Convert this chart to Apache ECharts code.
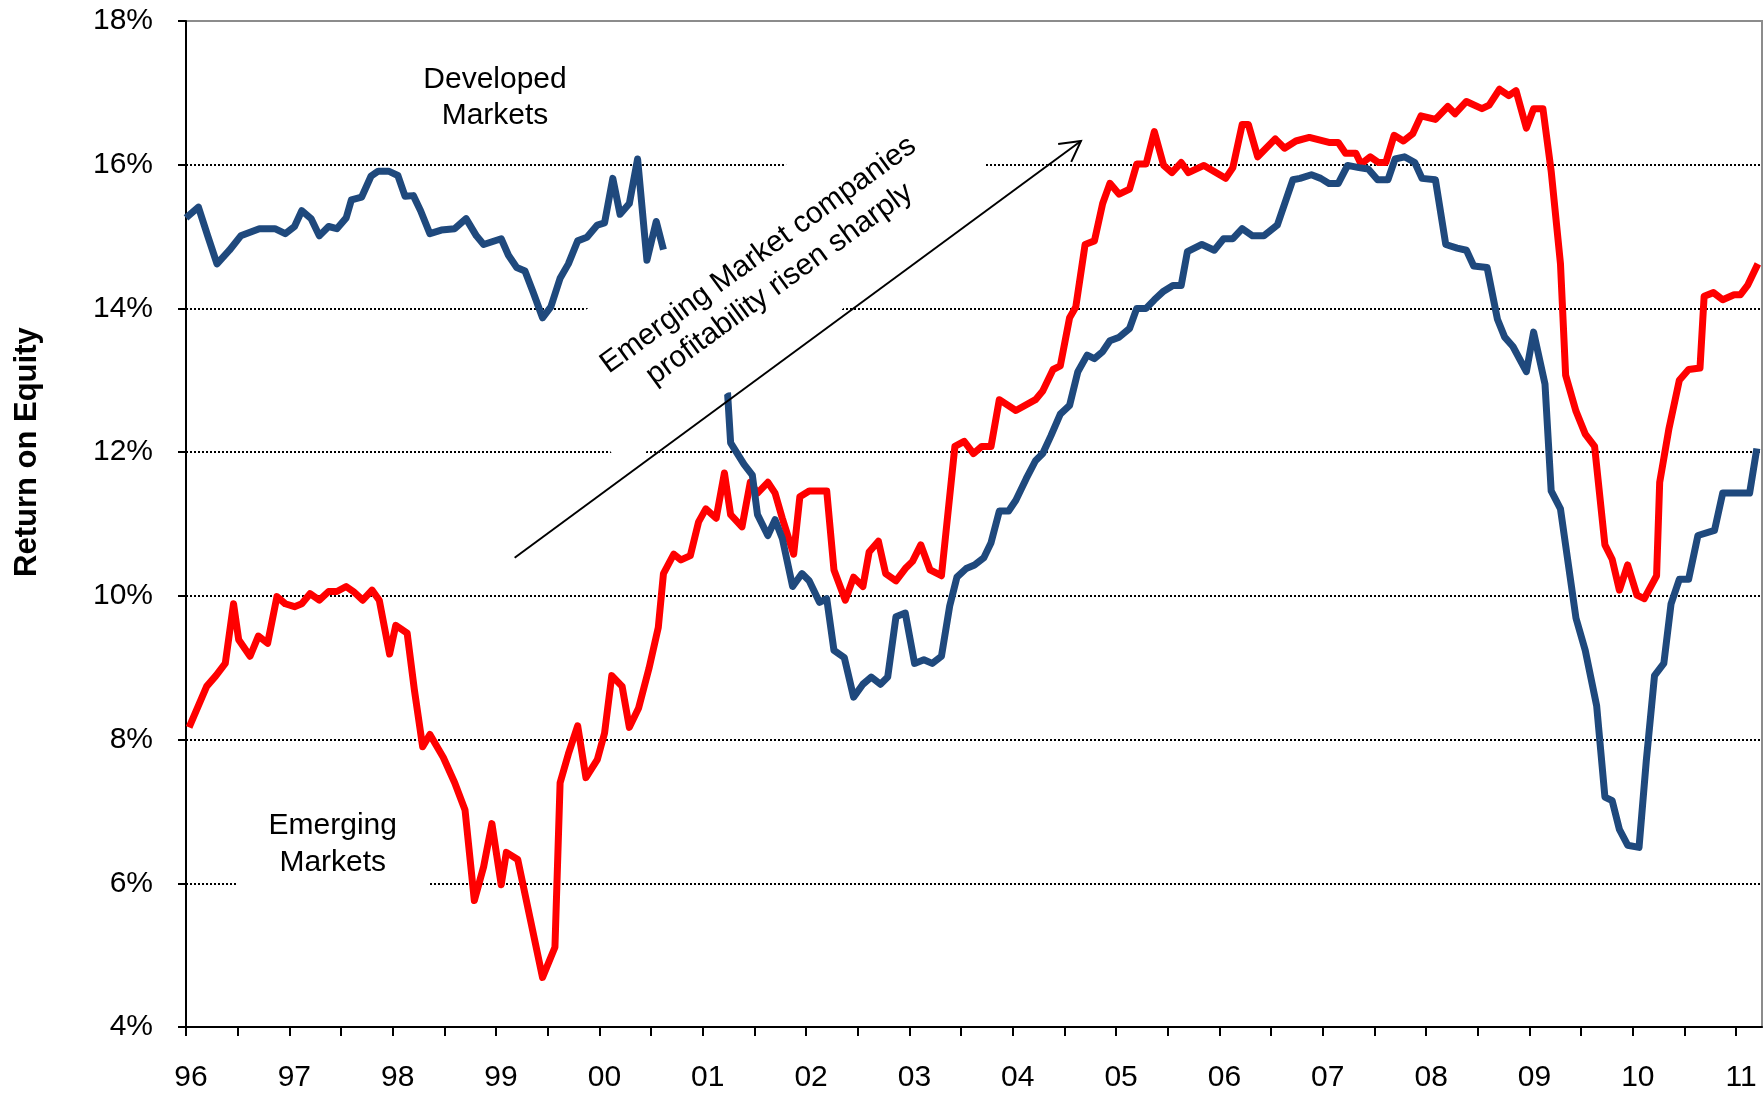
<!DOCTYPE html>
<html>
<head>
<meta charset="utf-8">
<script src="https://cdn.jsdelivr.net/npm/echarts@6/dist/echarts.min.js"></script>
<style>
  html, body { margin: 0; padding: 0; background: #fff; }
  #roe-chart { width: 1764px; height: 1100px; }
</style>
</head>
<body>
<div id="roe-chart"></div>
<script>
  // x axis: years shown, plus the half-year tick marks
  const yearTicks = [1996, 1997, 1998, 1999, 2000, 2001, 2002, 2003, 2004, 2005, 2006, 2007, 2008, 2009, 2010, 2011];
  const halfYearTicks = [1996.5, 1997.5, 1998.5, 1999.5, 2000.5, 2001.5, 2002.5, 2003.5, 2004.5, 2005.5, 2006.5, 2007.5, 2008.5, 2009.5, 2010.5];

  // Developed Markets ROE (%), [year, value]; the line is hidden behind the note box late 2000 - early 2001
  const developedEarly = [
    [1996.00, 15.26], [1996.12, 15.41], [1996.21, 15.01], [1996.30, 14.62], [1996.42, 14.81], [1996.53, 15.01],
    [1996.71, 15.11], [1996.86, 15.11], [1996.96, 15.04], [1997.05, 15.14], [1997.12, 15.36], [1997.21, 15.25],
    [1997.29, 15.01], [1997.38, 15.14], [1997.46, 15.11], [1997.55, 15.26], [1997.60, 15.51], [1997.70, 15.55],
    [1997.79, 15.84], [1997.86, 15.91], [1997.96, 15.91], [1998.05, 15.85], [1998.12, 15.56], [1998.20, 15.57],
    [1998.27, 15.36], [1998.36, 15.04], [1998.47, 15.09], [1998.60, 15.11], [1998.71, 15.25], [1998.81, 15.01],
    [1998.88, 14.89], [1999.05, 14.97], [1999.12, 14.74], [1999.20, 14.57], [1999.28, 14.52], [1999.36, 14.22],
    [1999.45, 13.87], [1999.53, 14.02], [1999.62, 14.42], [1999.70, 14.62], [1999.79, 14.94], [1999.88, 14.99],
    [1999.98, 15.16], [2000.05, 15.19], [2000.13, 15.81], [2000.20, 15.31], [2000.29, 15.46], [2000.37, 16.08],
    [2000.46, 14.67], [2000.55, 15.21], [2000.62, 14.82]
  ];
  const developedLate = [
    [2001.24, 12.83], [2001.27, 12.13], [2001.40, 11.83], [2001.48, 11.68], [2001.53, 11.13], [2001.63, 10.84],
    [2001.70, 11.06], [2001.77, 10.80], [2001.87, 10.13], [2001.96, 10.31], [2002.03, 10.21], [2002.13, 9.91],
    [2002.20, 9.96], [2002.27, 9.24], [2002.37, 9.14], [2002.46, 8.59], [2002.55, 8.77], [2002.63, 8.87],
    [2002.72, 8.77], [2002.79, 8.87], [2002.87, 9.71], [2002.96, 9.76], [2003.05, 9.06], [2003.14, 9.11],
    [2003.22, 9.06], [2003.31, 9.16], [2003.39, 9.86], [2003.46, 10.26], [2003.55, 10.38], [2003.63, 10.43],
    [2003.72, 10.53], [2003.79, 10.74], [2003.87, 11.18], [2003.96, 11.18], [2004.03, 11.33], [2004.13, 11.63],
    [2004.22, 11.88], [2004.29, 11.98], [2004.37, 12.23], [2004.46, 12.53], [2004.55, 12.65], [2004.63, 13.12],
    [2004.72, 13.35], [2004.79, 13.30], [2004.87, 13.40], [2004.94, 13.55], [2005.03, 13.60], [2005.13, 13.72],
    [2005.20, 14.00], [2005.29, 14.00], [2005.37, 14.12], [2005.46, 14.24], [2005.55, 14.32], [2005.63, 14.32],
    [2005.69, 14.79], [2005.83, 14.89], [2005.95, 14.81], [2006.04, 14.97], [2006.13, 14.97], [2006.22, 15.11],
    [2006.32, 15.01], [2006.43, 15.01], [2006.56, 15.16], [2006.71, 15.79], [2006.78, 15.81], [2006.89, 15.86],
    [2006.98, 15.81], [2007.06, 15.74], [2007.15, 15.74], [2007.24, 15.99], [2007.35, 15.96], [2007.44, 15.94],
    [2007.53, 15.79], [2007.63, 15.79], [2007.70, 16.08], [2007.79, 16.11], [2007.89, 16.03], [2007.96, 15.81],
    [2008.09, 15.79], [2008.19, 14.89], [2008.30, 14.84], [2008.39, 14.81], [2008.46, 14.59], [2008.59, 14.57],
    [2008.69, 13.85], [2008.76, 13.60], [2008.84, 13.47], [2008.97, 13.12], [2009.04, 13.67], [2009.15, 12.95],
    [2009.21, 11.46], [2009.30, 11.21], [2009.45, 9.69], [2009.54, 9.24], [2009.65, 8.47], [2009.73, 7.20],
    [2009.80, 7.15], [2009.87, 6.75], [2009.95, 6.53], [2010.06, 6.50], [2010.13, 7.70], [2010.21, 8.89],
    [2010.30, 9.06], [2010.37, 9.89], [2010.45, 10.23], [2010.54, 10.23], [2010.63, 10.84], [2010.79, 10.91],
    [2010.87, 11.43], [2011.13, 11.43], [2011.20, 12.05]
  ];

  // Emerging Markets ROE (%), [year, value]
  const emerging = [
    [1996.03, 8.17], [1996.20, 8.74], [1996.29, 8.89], [1996.38, 9.06], [1996.46, 9.89], [1996.51, 9.39],
    [1996.62, 9.16], [1996.70, 9.44], [1996.79, 9.34], [1996.88, 9.99], [1996.96, 9.89], [1997.05, 9.85],
    [1997.12, 9.89], [1997.20, 10.03], [1997.29, 9.94], [1997.38, 10.06], [1997.46, 10.06], [1997.55, 10.13],
    [1997.62, 10.06], [1997.71, 9.94], [1997.80, 10.08], [1997.87, 9.94], [1997.97, 9.19], [1998.03, 9.59],
    [1998.14, 9.48], [1998.21, 8.69], [1998.29, 7.90], [1998.36, 8.07], [1998.49, 7.75], [1998.60, 7.40],
    [1998.70, 7.02], [1998.79, 5.76], [1998.88, 6.23], [1998.96, 6.83], [1999.05, 5.98], [1999.10, 6.43],
    [1999.21, 6.33], [1999.33, 5.51], [1999.45, 4.69], [1999.57, 5.11], [1999.62, 7.40], [1999.70, 7.80],
    [1999.79, 8.19], [1999.87, 7.47], [1999.98, 7.72], [2000.05, 8.09], [2000.12, 8.89], [2000.22, 8.74],
    [2000.29, 8.17], [2000.38, 8.44], [2000.48, 8.99], [2000.57, 9.56], [2000.62, 10.31], [2000.72, 10.58],
    [2000.79, 10.50], [2000.88, 10.56], [2000.96, 11.03], [2001.03, 11.21], [2001.13, 11.08], [2001.21, 11.71],
    [2001.27, 11.13], [2001.38, 10.96], [2001.46, 11.58], [2001.53, 11.43], [2001.63, 11.58], [2001.70, 11.43],
    [2001.77, 11.08], [2001.88, 10.58], [2001.94, 11.38], [2002.03, 11.46], [2002.20, 11.46], [2002.27, 10.36],
    [2002.38, 9.94], [2002.46, 10.26], [2002.55, 10.13], [2002.61, 10.61], [2002.70, 10.76], [2002.77, 10.31],
    [2002.87, 10.21], [2002.96, 10.38], [2003.03, 10.48], [2003.11, 10.71], [2003.20, 10.36], [2003.31, 10.28],
    [2003.44, 12.08], [2003.53, 12.15], [2003.62, 11.98], [2003.70, 12.08], [2003.79, 12.08], [2003.87, 12.73],
    [2004.03, 12.58], [2004.22, 12.73], [2004.29, 12.85], [2004.39, 13.15], [2004.46, 13.20], [2004.55, 13.87],
    [2004.61, 14.02], [2004.70, 14.89], [2004.79, 14.94], [2004.87, 15.46], [2004.94, 15.74], [2005.03, 15.59],
    [2005.13, 15.66], [2005.20, 16.01], [2005.29, 16.01], [2005.37, 16.46], [2005.46, 15.99], [2005.54, 15.89],
    [2005.63, 16.03], [2005.70, 15.89], [2005.85, 15.99], [2006.06, 15.81], [2006.13, 15.96], [2006.22, 16.56],
    [2006.28, 16.56], [2006.37, 16.11], [2006.54, 16.36], [2006.63, 16.23], [2006.74, 16.33], [2006.87, 16.38],
    [2007.06, 16.31], [2007.15, 16.31], [2007.22, 16.16], [2007.32, 16.16], [2007.37, 16.01], [2007.46, 16.11],
    [2007.54, 16.03], [2007.61, 16.03], [2007.69, 16.41], [2007.78, 16.33], [2007.87, 16.43], [2007.95, 16.68],
    [2008.09, 16.63], [2008.21, 16.81], [2008.28, 16.71], [2008.39, 16.88], [2008.54, 16.78], [2008.61, 16.83],
    [2008.71, 17.05], [2008.80, 16.96], [2008.87, 17.03], [2008.97, 16.51], [2009.04, 16.78], [2009.13, 16.78],
    [2009.21, 15.91], [2009.30, 14.62], [2009.35, 13.07], [2009.45, 12.57], [2009.54, 12.25], [2009.63, 12.08],
    [2009.73, 10.71], [2009.80, 10.51], [2009.87, 10.08], [2009.95, 10.43], [2010.04, 10.01], [2010.11, 9.96],
    [2010.23, 10.28], [2010.26, 11.58], [2010.35, 12.33], [2010.45, 13.00], [2010.54, 13.15], [2010.65, 13.17],
    [2010.69, 14.17], [2010.78, 14.22], [2010.87, 14.12], [2010.98, 14.19], [2011.04, 14.19], [2011.11, 14.32],
    [2011.21, 14.62]
  ];

  // where the notes sit, in data units [year, %]
  const developedNoteAt = [1998.99, 16.93];
  const emergingNoteAt = [1997.42, 6.54];
  const trendNoteAt = [2001.64, 14.54];
  const arrowFrom = [1999.18, 10.53];
  const arrowTo = [2004.66, 16.33];

  const font = "'Liberation Sans', Arial, Helvetica, sans-serif";

  let option = {
    animation: false,
    backgroundColor: '#ffffff',
    grid: {
      left: 186,
      right: 2,
      top: 21,
      bottom: 73,
      show: true,
      borderColor: '#8c8c8c',
      borderWidth: 2
    },
    xAxis: {
      type: 'value',
      min: 1996,
      max: 2011.25,
      interval: 1,
      axisLine: { lineStyle: { color: '#000', width: 2 } },
      axisTick: {
        show: true,
        length: 9,
        customValues: yearTicks.concat(halfYearTicks),
        lineStyle: { color: '#000', width: 2 }
      },
      axisLabel: {
        customValues: yearTicks,
        formatter: function (v) { return String(Math.round(v) % 100).padStart(2, '0'); },
        fontSize: 30,
        fontFamily: font,
        color: '#000',
        margin: 36,
        padding: [0, 0, 0, 10]
      },
      splitLine: { show: false }
    },
    yAxis: {
      type: 'value',
      min: 4,
      max: 18,
      interval: 2,
      axisLine: { show: true, lineStyle: { color: '#000', width: 2 } },
      axisTick: { show: true, length: 8, lineStyle: { color: '#000', width: 2 } },
      axisLabel: {
        formatter: '{value}%',
        fontSize: 30,
        fontFamily: font,
        color: '#000',
        margin: 33
      },
      splitLine: {
        show: true,
        showMinLine: false,
        showMaxLine: false,
        lineStyle: { color: '#000', width: 2, type: [2, 2] }
      }
    },
    series: [
      {
        name: 'Emerging Markets',
        type: 'line',
        data: emerging,
        showSymbol: false,
        symbol: 'none',
        lineStyle: { color: '#ff0000', width: 7, join: 'round' },
        z: 3
      },
      {
        name: 'Developed Markets',
        type: 'line',
        data: developedEarly.concat([[2000.9, '-']], developedLate),
        connectNulls: false,
        showSymbol: false,
        symbol: 'none',
        lineStyle: { color: '#1f497d', width: 7, join: 'round' },
        z: 4
      }
    ]
  };

  //初始化图表
  const chartObj = echarts.init(document.getElementById('roe-chart'));
  chartObj.setOption(option);

  function px(p) {
    return chartObj.convertToPixel({ gridIndex: 0 }, p);
  }

  function buildNotes() {
    const dev = px(developedNoteAt);
    const emg = px(emergingNoteAt);
    const trend = px(trendNoteAt);
    const a = px(arrowFrom);
    const b = px(arrowTo);
    const back = Math.atan2(a[1] - b[1], a[0] - b[0]);
    const headLen = 23;
    const spread = 0.5;
    const h1 = [b[0] + headLen * Math.cos(back + spread), b[1] + headLen * Math.sin(back + spread)];
    const h2 = [b[0] + headLen * Math.cos(back - spread), b[1] + headLen * Math.sin(back - spread)];
    const nameY = px([1996, 12])[1];

    return [
      {
        type: 'text',
        x: 27,
        y: nameY,
        rotation: Math.PI / 2,
        z: 120,
        style: {
          text: 'Return on Equity',
          x: 0, y: 0,
          align: 'center', verticalAlign: 'middle',
          font: 'bold 31px ' + font,
          fill: '#000'
        }
      },
      {
        type: 'text',
        x: dev[0],
        y: dev[1],
        z: 120,
        style: {
          text: 'Developed\nMarkets',
          x: 0, y: 0,
          align: 'center', verticalAlign: 'middle',
          font: '30px ' + font,
          lineHeight: 36,
          fill: '#000'
        }
      },
      {
        type: 'text',
        x: emg[0],
        y: emg[1],
        z: 120,
        style: {
          text: 'Emerging\nMarkets',
          x: 0, y: 0,
          align: 'center', verticalAlign: 'middle',
          font: '30px ' + font,
          lineHeight: 37,
          fill: '#000',
          backgroundColor: '#ffffff',
          padding: [10, 32, 10, 32]
        }
      },
      {
        type: 'group',
        x: trend[0],
        y: trend[1],
        rotation: 36 * Math.PI / 180,
        z: 110,
        children: [
          {
            type: 'rect',
            z: 110,
            shape: { x: -235, y: -75, width: 471, height: 150 },
            style: { fill: '#ffffff' }
          },
          {
            type: 'text',
            z: 111,
            style: {
              text: 'Emerging Market companies\nprofitability risen sharply',
              x: 0, y: 0,
              align: 'center', verticalAlign: 'middle',
              font: '30px ' + font,
              lineHeight: 36,
              fill: '#000'
            }
          }
        ]
      },
      {
        type: 'polyline',
        z: 130,
        shape: { points: [a, b] },
        style: { stroke: '#000', lineWidth: 2, fill: null }
      },
      {
        type: 'polyline',
        z: 130,
        shape: { points: [h1, b, h2] },
        style: { stroke: '#000', lineWidth: 2, fill: null }
      }
    ];
  }

  chartObj.setOption({ graphic: buildNotes() });
</script>
</body>
</html>
